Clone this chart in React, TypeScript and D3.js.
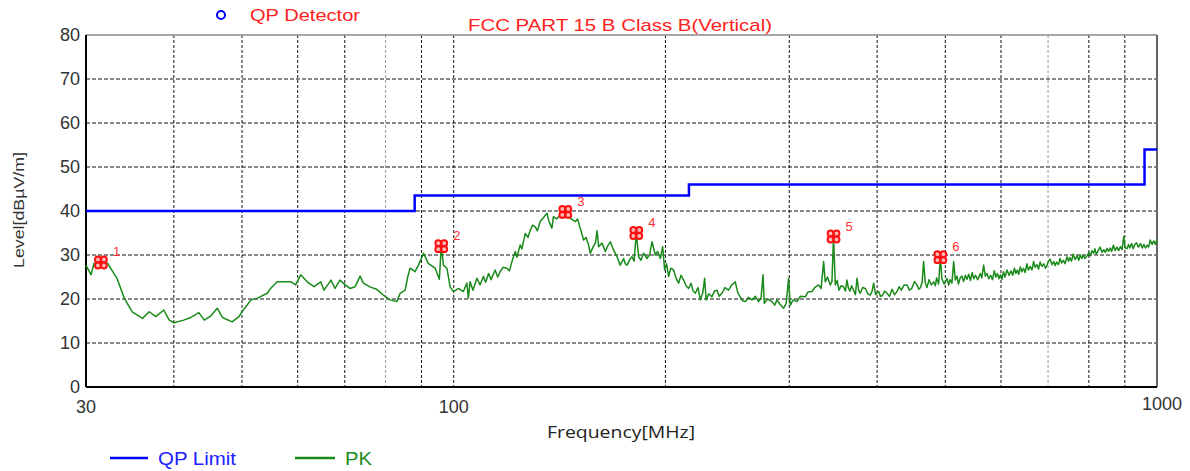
import * as d3 from "d3";

// EMI scan, FCC Part 15 B class B, vertical polarisation
const xTickValues = [30, 100, 1000];
const xGridValues = [40, 50, 60, 70, 80, 90, 100, 200, 300, 400, 500, 600, 700, 800, 900];
const lightGridValues = [80, 700];
const yTickValues = [0, 10, 20, 30, 40, 50, 60, 70, 80];

// QP limit: level valid from each edge up to the next one
const limitEdges = [30, 88, 216, 960, 1000];
const limitLevels = [40, 43.5, 46, 54, 54];

// PK trace: [MHz, dBuV/m]
const pkTrace: [number, number][] = [
  [30.0, 27.7], [30.5, 25.5], [30.8, 28.1], [31.5, 28.3], [32.2, 28.1], [33.2, 24.7], [34.0, 20.2],
  [34.9, 17.1], [36.1, 15.6], [36.9, 17.1], [37.7, 16.0], [38.7, 17.5], [39.4, 15.2], [40.0, 14.6],
  [41.3, 15.2], [42.3, 15.8], [43.4, 16.9], [44.2, 15.2], [45.1, 16.1], [46.1, 17.9], [46.9, 15.8],
  [48.4, 14.8], [49.5, 16.0], [50.0, 17.1], [51.5, 19.8], [52.6, 20.2], [54.3, 21.3], [54.9, 22.4],
  [56.1, 23.9], [58.7, 23.9], [59.6, 23.2], [60.6, 25.5], [61.9, 23.9], [63.3, 22.8], [64.7, 23.9],
  [65.4, 22.0], [66.9, 24.3], [67.8, 22.4], [68.9, 24.3], [70.1, 23.2], [71.2, 22.4], [72.4, 22.8],
  [73.6, 25.2], [74.4, 23.6], [76.1, 22.7], [77.7, 22.2], [79.4, 20.9], [81.2, 19.8], [83.0, 19.4],
  [83.9, 21.3], [85.3, 22.0], [86.0, 25.0], [86.7, 27.0], [88.1, 26.2], [89.1, 27.7], [90.6, 30.4],
  [92.0, 28.1], [94.1, 27.0], [95.4, 24.5], [96.0, 32.0], [96.7, 27.7], [97.8, 27.0], [98.8, 22.8],
  [99.9, 21.7], [101.6, 22.4], [103.2, 21.7], [104.4, 23.6], [104.9, 20.2], [105.5, 23.9],
  [106.5, 22.0], [107.9, 24.7], [109.0, 23.2], [110.2, 25.1], [111.0, 23.8], [112.1, 25.8],
  [113.0, 24.4], [114.5, 26.6], [115.5, 25.0], [116.4, 26.2], [117.5, 27.2], [119.0, 27.0],
  [120.0, 26.4], [121.0, 28.5], [122.3, 30.8], [123.0, 29.5], [124.3, 32.3], [125.0, 31.4],
  [126.4, 34.9], [127.5, 34.0], [128.5, 35.7], [129.5, 36.8], [130.6, 36.4], [131.5, 35.5],
  [132.7, 37.6], [134.0, 38.4], [135.7, 39.5], [136.5, 37.8], [137.9, 36.1], [138.6, 38.7],
  [140.0, 38.2], [141.7, 39.1], [143.0, 38.4], [144.1, 39.8], [145.3, 38.8], [146.5, 38.3],
  [148.9, 37.6], [150.0, 38.2], [151.3, 36.1], [153.0, 33.4], [154.2, 34.0], [155.5, 32.3],
  [156.4, 30.4], [157.8, 31.8], [159.0, 32.7], [159.9, 35.5], [160.7, 31.9], [162.5, 32.7],
  [164.3, 30.8], [165.5, 32.0], [167.0, 33.0], [168.8, 31.1], [170.7, 29.6], [172.5, 27.7],
  [174.4, 29.2], [175.4, 28.0], [176.4, 27.7], [178.0, 29.0], [179.3, 29.6], [180.5, 28.6],
  [181.8, 35.0], [183.2, 29.6], [184.6, 28.8], [186.2, 30.4], [188.3, 29.2], [190.0, 30.2],
  [191.4, 33.0], [193.5, 30.0], [195.0, 30.8], [196.7, 29.2], [198.2, 31.9], [199.5, 26.6],
  [200.8, 28.0], [202.1, 25.1], [203.5, 27.0], [205.4, 26.6], [207.0, 24.8], [208.8, 23.6],
  [210.5, 25.4], [212.3, 24.3], [214.0, 23.0], [215.8, 22.4], [217.5, 23.6], [219.0, 21.8],
  [220.6, 21.3], [222.5, 22.6], [224.2, 19.8], [226.0, 21.4], [227.4, 24.7], [228.5, 19.8],
  [230.5, 21.2], [232.9, 20.5], [234.8, 21.8], [236.8, 22.0], [238.5, 20.6], [240.7, 21.3],
  [243.0, 22.6], [245.9, 22.0], [248.5, 23.2], [251.4, 23.9], [253.5, 21.4], [255.5, 20.5],
  [257.5, 19.6], [259.8, 19.4], [262.5, 20.4], [265.5, 19.8], [268.5, 20.6], [271.3, 19.4],
  [273.5, 20.2], [275.3, 25.5], [276.4, 19.0], [279.5, 20.0], [283.5, 19.4], [286.0, 18.6],
  [288.2, 19.8], [291.0, 18.8], [294.5, 17.9], [297.0, 19.0], [299.3, 24.7], [301.0, 18.6],
  [304.0, 19.8], [307.7, 19.4], [311.0, 20.6], [316.2, 20.5], [319.0, 21.6], [323.2, 21.7],
  [326.0, 22.6], [330.2, 23.2], [333.0, 22.4], [335.7, 28.5], [337.5, 23.9], [340.0, 25.0],
  [343.1, 23.2], [345.0, 24.0], [346.8, 34.2], [348.8, 23.2], [351.0, 24.2], [353.0, 22.0],
  [355.5, 23.0], [358.3, 22.8], [360.5, 21.8], [362.4, 24.3], [364.0, 22.6], [366.0, 21.8],
  [368.0, 23.0], [370.3, 22.0], [372.5, 21.0], [374.5, 24.7], [376.5, 22.0], [378.5, 21.3],
  [381.5, 22.6], [384.8, 22.4], [388.0, 21.2], [391.1, 20.9], [393.5, 21.8], [395.4, 23.6],
  [398.0, 21.0], [401.9, 21.7], [404.5, 20.6], [407.0, 20.8], [410.0, 21.8], [413.2, 21.3],
  [416.5, 20.6], [420.0, 22.2], [423.5, 21.0], [426.9, 21.7], [430.0, 22.8], [433.0, 22.0],
  [437.0, 23.2], [441.1, 23.2], [444.5, 22.0], [448.0, 22.4], [452.0, 24.0], [455.8, 23.2],
  [458.5, 22.2], [461.0, 22.6], [463.5, 23.8], [465.7, 28.5], [468.4, 23.6], [471.0, 22.6],
  [474.0, 24.4], [477.5, 23.2], [481.3, 23.9], [484.0, 23.0], [486.0, 24.8], [489.2, 23.4],
  [492.0, 29.5], [494.5, 24.6], [498.0, 23.4], [502.9, 24.7], [505.5, 23.2], [508.0, 24.4],
  [511.0, 23.6], [513.9, 28.5], [516.7, 24.3], [519.5, 25.2], [522.0, 23.4], [525.0, 24.8],
  [528.0, 25.2], [531.0, 24.0], [534.0, 25.4], [536.9, 24.5], [540.0, 25.6], [543.0, 24.2],
  [546.0, 26.0], [549.0, 24.6], [552.0, 25.4], [556.0, 24.4], [560.8, 25.8], [563.5, 24.8],
  [566.9, 27.7], [570.0, 25.2], [573.2, 25.8], [576.5, 24.6], [580.0, 25.4], [583.5, 24.4],
  [587.0, 26.4], [590.0, 25.0], [593.0, 25.8], [596.0, 24.6], [598.7, 25.5], [602.0, 24.5],
  [605.0, 26.2], [608.0, 25.0], [612.0, 26.6], [616.0, 25.4], [620.0, 26.4], [623.5, 25.4],
  [627.0, 27.0], [630.0, 25.8], [633.0, 26.6], [636.0, 25.6], [639.2, 27.3], [642.5, 26.2],
  [646.0, 27.0], [649.5, 26.0], [653.0, 28.0], [656.5, 26.6], [660.0, 27.4], [664.0, 26.6],
  [667.7, 28.5], [671.0, 27.2], [675.0, 27.8], [678.5, 26.8], [682.0, 28.4], [686.0, 27.4],
  [690.0, 28.0], [694.0, 27.0], [697.7, 27.7], [701.0, 28.6], [705.0, 29.0], [709.0, 27.8],
  [713.0, 28.5], [716.5, 27.6], [720.0, 28.4], [724.0, 27.8], [728.0, 29.2], [732.0, 28.2],
  [736.0, 28.8], [740.0, 28.0], [744.9, 29.6], [748.5, 28.6], [752.0, 29.4], [756.0, 28.6],
  [760.0, 30.2], [765.0, 29.0], [770.0, 29.8], [774.0, 28.8], [778.1, 30.0], [782.0, 29.2],
  [786.0, 30.0], [790.0, 29.2], [795.5, 29.8], [800.0, 30.6], [804.0, 29.8], [808.0, 31.0],
  [812.9, 30.4], [816.0, 31.4], [820.0, 30.2], [825.0, 31.0], [830.0, 31.8], [835.0, 30.6],
  [840.0, 31.2], [844.5, 30.6], [849.2, 31.5], [853.5, 30.8], [858.0, 31.6], [862.0, 30.8],
  [867.0, 32.2], [872.0, 31.0], [877.0, 31.8], [882.0, 31.0], [887.0, 31.9], [892.0, 31.2],
  [896.7, 34.2], [901.0, 31.6], [906.8, 31.5], [911.0, 32.4], [915.0, 31.6], [920.0, 32.6],
  [925.0, 31.4], [930.0, 32.4], [935.0, 32.8], [941.0, 31.8], [947.3, 32.6], [953.0, 31.6],
  [958.0, 32.4], [963.0, 31.6], [968.2, 32.2], [973.0, 31.8], [978.0, 33.4], [984.0, 32.4],
  [989.4, 33.2], [995.0, 32.4], [1000.0, 33.6],
];

// marked peaks
const markerFreq = [31.5, 96.0, 144.1, 181.8, 346.8, 492.0];
const markerLevel = [28.3, 32.0, 39.8, 35.0, 34.2, 29.5];
const markerLabel = ["1", "2", "3", "4", "5", "6"];

const W = 1190;
const H = 471;
const left = 86, right = 1157, top = 35, bottom = 387;
const font = "'Liberation Sans', Arial, sans-serif";

function Marker({ cx, cy }: { cx: number; cy: number }) {
  const o = 3;
  return (
    <g transform={`translate(${cx},${cy})`}>
      {[[-o, -o], [o, -o], [-o, o], [o, o]].map(([dx, dy], i) => (
        <circle key={i} cx={dx} cy={dy} r={2.9} fill="#ffb8b8" stroke="#ff1010" strokeWidth={2} />
      ))}
    </g>
  );
}

export default function App() {
  const x = d3.scaleLog().domain([30, 1000]).range([left, right]);
  const y = d3.scaleLinear().domain([0, 80]).range([bottom, top]);

  const pkLine = d3.line<[number, number]>()
    .x(d => x(d[0]))
    .y(d => y(d[1]));

  const limitPts = limitEdges.map((f, i) => [f, limitLevels[i]] as [number, number]);
  const limitLine = d3.line<[number, number]>()
    .x(d => x(d[0]))
    .y(d => y(d[1]))
    .curve(d3.curveStepAfter);

  return (
    <svg width={W} height={H} style={{ position: "absolute", left: 0, top: 0, background: "#fff" }} fontFamily={font}>
      {/* header */}
      <circle cx={221} cy={15} r={4} fill="none" stroke="#0000ff" strokeWidth={2} />
      <text x={250} y={21} fontSize={17} fill="#ff2020" textLength={110} lengthAdjust="spacingAndGlyphs">QP Detector</text>
      <text x={468} y={31} fontSize={17} fill="#ff2020" textLength={304} lengthAdjust="spacingAndGlyphs">FCC PART 15 B Class B(Vertical)</text>

      {/* grid */}
      {yTickValues.filter(v => v > 0 && v < 80).map(v => (
        <line key={"h" + v} x1={left} x2={right} y1={y(v)} y2={y(v)} stroke="#111" strokeWidth={1} strokeDasharray="4,2" />
      ))}
      {xGridValues.map(v => (
        <line key={"v" + v} x1={x(v)} x2={x(v)} y1={top} y2={bottom}
          stroke={lightGridValues.includes(v) ? "#999" : "#111"} strokeWidth={1} strokeDasharray="3,2" />
      ))}

      {/* frame */}
      <line x1={left} x2={right} y1={top} y2={top} stroke="#888" strokeWidth={1.5} />
      <line x1={right} x2={right} y1={top} y2={bottom} stroke="#666" strokeWidth={2} />
      <line x1={left} x2={left} y1={top} y2={bottom} stroke="#000" strokeWidth={2} />
      <line x1={left} x2={right} y1={bottom} y2={bottom} stroke="#000" strokeWidth={2} />

      {/* y ticks */}
      {yTickValues.map(v => (
        <text key={"yt" + v} x={80} y={y(v) + 6} fontSize={18} fill="#333" textAnchor="end">{v}</text>
      ))}
      <text transform="translate(24,210) rotate(-90)" fontSize={15} fill="#333" textAnchor="middle"
        textLength={116} lengthAdjust="spacingAndGlyphs">Level[dBµV/m]</text>

      {/* x ticks */}
      {xTickValues.map(v => (
        <text key={"xt" + v} x={x(v) + (v === 1000 ? 5 : 0)} y={v === 1000 ? 410 : 413} fontSize={18} fill="#333" textAnchor="middle">{v}</text>
      ))}
      <text x={547} y={438} fontSize={17} fill="#222" fontFamily="'Open Sans', sans-serif"
        textLength={148} lengthAdjust="spacingAndGlyphs">Frequency[MHz]</text>

      {/* data */}
      <path d={limitLine(limitPts) ?? ""} fill="none" stroke="#0000ff" strokeWidth={2.5} />
      <path d={pkLine(pkTrace) ?? ""} fill="none" stroke="#1a8a1a" strokeWidth={1.5} strokeLinejoin="round" />

      {markerFreq.map((f, i) => (
        <g key={"m" + i}>
          <Marker cx={x(f)} cy={y(markerLevel[i])} />
          <text x={x(f) + 12} y={y(markerLevel[i]) - 6} fontSize={13} fill="#ff3030">{markerLabel[i]}</text>
        </g>
      ))}

      {/* legend */}
      <line x1={110} x2={148} y1={458} y2={458} stroke="#0000ff" strokeWidth={2.5} />
      <text x={158} y={465} fontSize={18} fill="#2020ff" textLength={78} lengthAdjust="spacingAndGlyphs">QP Limit</text>
      <line x1={295} x2={335} y1={458} y2={458} stroke="#1a8a1a" strokeWidth={2.5} />
      <text x={345} y={465} fontSize={18} fill="#1a8a1a" textLength={27} lengthAdjust="spacingAndGlyphs">PK</text>
    </svg>
  );
}
